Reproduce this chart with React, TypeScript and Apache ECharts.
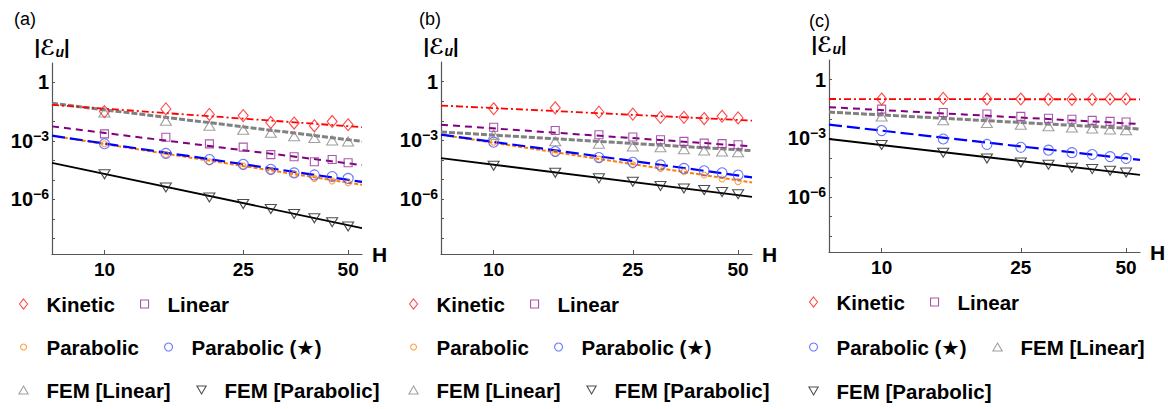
import React, { useEffect, useRef } from 'react';
import * as echarts from 'echarts';

const FONT = '"Liberation Sans", Arial, Helvetica, "DejaVu Sans", sans-serif';

// ---------- data ----------
const heights = [10, 15, 20, 25, 30, 35, 40, 45, 50];
const fitHeights = [7.07, 54.8];
const xTickValues = [10, 25, 50];
const yLabelValues = [1e-6, 1e-3, 1];
const yTickValues = [1e-8, 1e-7, 1e-6, 1e-5, 1e-4, 1e-3, 1e-2, 1e-1, 1];
const panelLabels = ['(a)', '(b)', '(c)'];

// panel (a)
const aKinetic = [3.2e-2, 4.4e-2, 2.3e-2, 2.0e-2, 8.9e-3, 8.3e-3, 6.0e-3, 1.0e-2, 6.8e-3];
const aKineticFit = [7.1e-2, 5.1e-3];
const aLinear = [2.3e-3, 1.55e-3, 7.1e-4, 4.8e-4, 2.0e-4, 1.55e-4, 8.5e-5, 1.12e-4, 7.6e-5];
const aLinearFit = [5.6e-3, 5.8e-5];
const aParabolic = [7.2e-4, 2.0e-4, 8.5e-5, 5.1e-5, 2.9e-5, 1.95e-5, 1.2e-5, 8.9e-6, 7.2e-6];
const aParabolicFit = [1.86e-3, 5.6e-6];
const aParabolicStar = [7.2e-4, 2.3e-4, 1.12e-4, 6.3e-5, 3.5e-5, 2.3e-5, 1.8e-5, 1.5e-5, 1.2e-5];
const aParabolicStarFit = [1.86e-3, 7.9e-6];
const aFemLinear = [2.9e-2, 1.1e-2, 6.0e-3, 3.8e-3, 2.6e-3, 1.74e-3, 1.41e-3, 1.07e-3, 9.5e-4];
const aFemLinearFit = [8.5e-2, 9.5e-4];
const aFemParabolic = [1.95e-5, 4.1e-6, 1.26e-6, 5.8e-7, 3.2e-7, 1.8e-7, 1.07e-7, 6.8e-8, 4.1e-8];
const aFemParabolicFit = [7.6e-5, 3.4e-8];

// panel (b)
const bKinetic = [4.1e-2, 4.6e-2, 2.75e-2, 2.2e-2, 1.5e-2, 1.5e-2, 1.3e-2, 1.7e-2, 1.4e-2];
const bKineticFit = [6.0e-2, 1.02e-2];
const bLinear = [4.7e-3, 3.2e-3, 1.95e-3, 1.48e-3, 1.07e-3, 8.9e-4, 7.2e-4, 6.8e-4, 6.0e-4];
const bLinearFit = [6.3e-3, 4.9e-4];
const bParabolic = [8.1e-4, 2.2e-4, 1.1e-4, 5.6e-5, 3.7e-5, 2.5e-5, 1.7e-5, 1.07e-5, 7.8e-6];
const bParabolicFit = [1.95e-3, 7.1e-6];
const bParabolicStar = [8.1e-4, 2.7e-4, 1.32e-4, 7.6e-5, 5.6e-5, 3.7e-5, 2.8e-5, 2.2e-5, 1.7e-5];
const bParabolicStarFit = [1.95e-3, 1.29e-5];
const bFemLinear = [1.95e-3, 8.9e-4, 6.8e-4, 4.9e-4, 4.4e-4, 3.5e-4, 3.0e-4, 2.7e-4, 2.5e-4];
const bFemLinearFit = [2.7e-3, 3.0e-4];
const bFemParabolic = [5.1e-5, 2.2e-5, 1.15e-5, 7.8e-6, 4.7e-6, 3.5e-6, 2.9e-6, 2.3e-6, 1.8e-6];
const bFemParabolicFit = [1.23e-4, 1.32e-6];

// panel (c)
const cKinetic = [0.102, 0.11, 0.102, 0.102, 0.098, 0.098, 0.098, 0.102, 0.102];
const cKineticFit = [0.102, 0.098];
const cLinear = [3.1e-2, 2.1e-2, 1.74e-2, 1.32e-2, 1.07e-2, 9.5e-3, 8.3e-3, 7.4e-3, 6.8e-3];
const cLinearFit = [3.9e-2, 5.4e-3];
const cParabolicStar = [2.5e-3, 9.3e-4, 4.9e-4, 3.5e-4, 2.5e-4, 1.86e-4, 1.5e-4, 1.17e-4, 9.5e-5];
const cParabolicStarFit = [5.0e-3, 7.9e-5];
const cFemLinear = [1.32e-2, 8.3e-3, 6.0e-3, 5.0e-3, 4.1e-3, 3.6e-3, 3.2e-3, 2.8e-3, 2.6e-3];
const cFemLinearFit = [2.2e-2, 3.0e-3];
const cFemParabolic = [4.6e-4, 1.86e-4, 9.3e-5, 5.8e-5, 4.5e-5, 3.2e-5, 2.7e-5, 2.2e-5, 1.8e-5];
const cFemParabolicFit = [9.3e-4, 1.38e-5];

// ---------- styles ----------
type Sty = {
  mark: string;
  symbol: string;
  size: number | number[];
  rotate?: number;
  legendIcon: string;
  legendSize: number;
  legendIconW: number;
  lineColor: string;
  lineWidth: number;
  dash: any;
};

const STY: Record<string, Sty> = {
  Kinetic: { mark: '#ff1a1a', symbol: 'diamond', size: [10, 12], legendIcon: 'path://M4,0L8,5L4,10L0,5Z', legendSize: 10, legendIconW: 8, lineColor: '#ff0000', lineWidth: 1.8, dash: [7, 3, 2, 3] },
  Linear: { mark: '#952d95', symbol: 'rect', size: 8, legendIcon: 'path://M0,0L10,0L10,10L0,10Z', legendSize: 8, legendIconW: 8, lineColor: '#800080', lineWidth: 2, dash: [7, 5] },
  Parabolic: { mark: '#ff8c1a', symbol: 'circle', size: 6, legendIcon: 'circle', legendSize: 6, legendIconW: 6, lineColor: '#ff8000', lineWidth: 2, dash: [4, 2] },
  'Parabolic (★)': { mark: '#4455ff', symbol: 'circle', size: 10, legendIcon: 'circle', legendSize: 8, legendIconW: 8, lineColor: '#0000ff', lineWidth: 2.2, dash: [13, 5] },
  'FEM [Linear]': { mark: '#888888', symbol: 'triangle', size: [11, 9], legendIcon: 'path://M5,0L10,8.66L0,8.66Z', legendSize: 8, legendIconW: 9.24, lineColor: '#808080', lineWidth: 3, dash: [6, 2] },
  'FEM [Parabolic]': { mark: '#222222', symbol: 'triangle', size: [11, 9], rotate: 180, legendIcon: 'path://M0,0L10,0L5,8.66Z', legendSize: 8, legendIconW: 9.24, lineColor: '#000000', lineWidth: 1.8, dash: 'solid' },
};

type SeriesDef = { name: string; values: number[]; fit: number[] };
type LegendDef = { name: string; cx: number; cy: number };
type PanelDef = {
  grid: number[];
  title: number[];
  series: SeriesDef[];
  legend: LegendDef[];
};

const PANELS: PanelDef[] = [
  {
    grid: [52, 63, 310, 191],
    title: [14, 10],
    series: [
      { name: 'FEM [Parabolic]', values: aFemParabolic, fit: aFemParabolicFit },
      { name: 'Parabolic', values: aParabolic, fit: aParabolicFit },
      { name: 'Parabolic (★)', values: aParabolicStar, fit: aParabolicStarFit },
      { name: 'Linear', values: aLinear, fit: aLinearFit },
      { name: 'FEM [Linear]', values: aFemLinear, fit: aFemLinearFit },
      { name: 'Kinetic', values: aKinetic, fit: aKineticFit },
    ],
    legend: [
      { name: 'Kinetic', cx: 23, cy: 304 },
      { name: 'Linear', cx: 144, cy: 304 },
      { name: 'Parabolic', cx: 23, cy: 347 },
      { name: 'Parabolic (★)', cx: 168, cy: 347 },
      { name: 'FEM [Linear]', cx: 23, cy: 390 },
      { name: 'FEM [Parabolic]', cx: 201, cy: 390 },
    ],
  },
  {
    grid: [441, 62, 311, 192],
    title: [419, 10],
    series: [
      { name: 'FEM [Parabolic]', values: bFemParabolic, fit: bFemParabolicFit },
      { name: 'Parabolic', values: bParabolic, fit: bParabolicFit },
      { name: 'Parabolic (★)', values: bParabolicStar, fit: bParabolicStarFit },
      { name: 'FEM [Linear]', values: bFemLinear, fit: bFemLinearFit },
      { name: 'Linear', values: bLinear, fit: bLinearFit },
      { name: 'Kinetic', values: bKinetic, fit: bKineticFit },
    ],
    legend: [
      { name: 'Kinetic', cx: 413, cy: 304 },
      { name: 'Linear', cx: 534, cy: 304 },
      { name: 'Parabolic', cx: 413, cy: 347 },
      { name: 'Parabolic (★)', cx: 558, cy: 347 },
      { name: 'FEM [Linear]', cx: 413, cy: 390 },
      { name: 'FEM [Parabolic]', cx: 591, cy: 390 },
    ],
  },
  {
    grid: [829, 60, 311, 192],
    title: [809, 12],
    series: [
      { name: 'FEM [Parabolic]', values: cFemParabolic, fit: cFemParabolicFit },
      { name: 'Parabolic (★)', values: cParabolicStar, fit: cParabolicStarFit },
      { name: 'FEM [Linear]', values: cFemLinear, fit: cFemLinearFit },
      { name: 'Linear', values: cLinear, fit: cLinearFit },
      { name: 'Kinetic', values: cKinetic, fit: cKineticFit },
    ],
    legend: [
      { name: 'Kinetic', cx: 813, cy: 302 },
      { name: 'Linear', cx: 934, cy: 302 },
      { name: 'Parabolic (★)', cx: 813, cy: 347 },
      { name: 'FEM [Linear]', cx: 997, cy: 347 },
      { name: 'FEM [Parabolic]', cx: 813, cy: 391 },
    ],
  },
];

const X_MIN = 7.07;
const X_MAX = 54.8;
const Y_MIN = Math.pow(10, -8.8);
const Y_MAX = 10;
const AXIS_COLOR = '#555555';
const LEGEND_ITEM_W = 36;
const LEGEND_LINE_H = 24;

function yLabel(v: number): string {
  const e = Math.round(Math.log10(v));
  if (e === 0) return '{b|1}';
  return `{b|10}{s|−${-e}}`;
}

function buildOption(): any {
  const grid: any[] = [];
  const xAxis: any[] = [];
  const yAxis: any[] = [];
  const series: any[] = [];
  const legend: any[] = [];
  const title: any[] = [];

  PANELS.forEach((p, i) => {
    grid.push({ left: p.grid[0], top: p.grid[1], width: p.grid[2], height: p.grid[3], containLabel: false, outerBoundsMode: 'none' });
    title.push({
      text: panelLabels[i],
      left: p.title[0],
      top: p.title[1],
      padding: 0,
      textStyle: { fontSize: 18, fontWeight: 'normal', color: '#000', fontFamily: FONT },
    });
    xAxis.push({
      type: 'log',
      logBase: 10,
      gridIndex: i,
      min: X_MIN,
      max: X_MAX,
      name: 'H',
      nameLocation: 'end',
      nameGap: 10,
      nameTextStyle: { fontSize: 21, fontWeight: 'bold', color: '#000', fontFamily: FONT },
      axisLine: { show: true, onZero: false, lineStyle: { color: AXIS_COLOR, width: 1.2 } },
      axisTick: { show: true, inside: true, length: 4, customValues: xTickValues, lineStyle: { color: AXIS_COLOR } },
      axisLabel: {
        show: true,
        customValues: xTickValues,
        margin: 6,
        fontSize: 19,
        fontWeight: 'bold',
        color: '#000',
        fontFamily: FONT,
        formatter: (v: number) => String(Math.round(v)),
      },
      splitLine: { show: false },
      minorTick: { show: false },
    });
    yAxis.push({
      type: 'log',
      logBase: 10,
      gridIndex: i,
      min: Y_MIN,
      max: Y_MAX,
      name: '|{e|ℰ}{u|u}|',
      nameLocation: 'end',
      nameGap: 4,
      nameTextStyle: {
        fontSize: 20,
        fontWeight: 'bold',
        color: '#000',
        fontFamily: FONT,
        lineHeight: 24,
        rich: {
          e: { fontSize: 21, fontStyle: 'italic', fontWeight: 'bold', color: '#000', fontFamily: '"DejaVu Serif", "DejaVu Sans", serif', lineHeight: 24 },
          u: { fontSize: 14, fontStyle: 'italic', fontWeight: 'bold', color: '#000', fontFamily: FONT, verticalAlign: 'bottom', lineHeight: 16 },
        },
      },
      axisLine: { show: true, onZero: false, lineStyle: { color: AXIS_COLOR, width: 1.2 } },
      axisTick: { show: true, inside: true, length: 3, customValues: yTickValues, lineStyle: { color: AXIS_COLOR } },
      axisLabel: {
        show: true,
        customValues: yLabelValues,
        margin: 3,
        formatter: yLabel,
        rich: {
          b: { fontSize: 20, fontWeight: 'bold', color: '#000', fontFamily: FONT, lineHeight: 24 },
          s: { fontSize: 14, fontWeight: 'bold', color: '#000', fontFamily: FONT, verticalAlign: 'top', lineHeight: 14 },
        },
      },
      splitLine: { show: false },
      minorTick: { show: false },
    });

    // fit lines first
    p.series.forEach((s) => {
      const st = STY[s.name];
      series.push({
        type: 'line',
        name: s.name + ' fit ' + panelLabels[i],
        xAxisIndex: i,
        yAxisIndex: i,
        data: fitHeights.map((h, k) => [h, s.fit[k]]),
        symbol: 'none',
        silent: true,
        lineStyle: { color: st.lineColor, width: st.lineWidth, type: st.dash },
        emphasis: { disabled: true },
        z: 2,
      });
    });
    // markers
    p.series.forEach((s) => {
      const st = STY[s.name];
      series.push({
        type: 'scatter',
        name: s.name,
        xAxisIndex: i,
        yAxisIndex: i,
        data: heights.map((h, k) => [h, s.values[k]]),
        symbol: st.symbol,
        symbolSize: st.size,
        symbolRotate: st.rotate || 0,
        itemStyle: { color: 'transparent', borderColor: st.mark, borderWidth: 1.1 },
        emphasis: { disabled: true },
        silent: true,
        z: 3,
      });
    });

    p.legend.forEach((l) => {
      const st = STY[l.name];
      legend.push({
        show: true,
        selectedMode: false,
        orient: 'horizontal',
        left: l.cx - st.legendIconW / 2,
        top: l.cy - LEGEND_LINE_H / 2,
        padding: 0,
        itemWidth: LEGEND_ITEM_W,
        itemHeight: st.legendSize,
        symbolKeepAspect: true,
        data: [
          {
            name: l.name,
            icon: st.legendIcon,
            itemStyle: { color: 'transparent', borderColor: st.mark, borderWidth: 1.1 },
          },
        ],
        textStyle: { fontSize: 20.5, fontWeight: 'bold', color: '#000', fontFamily: FONT, lineHeight: LEGEND_LINE_H },
      });
    });
  });

  return {
    animation: false,
    backgroundColor: '#ffffff',
    title,
    grid,
    xAxis,
    yAxis,
    legend,
    series,
  };
}

export default function App() {
  const ref = useRef<HTMLDivElement>(null);
  useEffect(() => {
    if (!ref.current) return;
    const chart = echarts.init(ref.current, null, { renderer: 'svg' });
    chart.setOption(buildOption());
    return () => {
      chart.dispose();
    };
  }, []);
  return (
    <div
      ref={ref}
      style={{ position: 'fixed', left: 0, top: 0, width: 1168, height: 409, background: '#fff' }}
    />
  );
}
